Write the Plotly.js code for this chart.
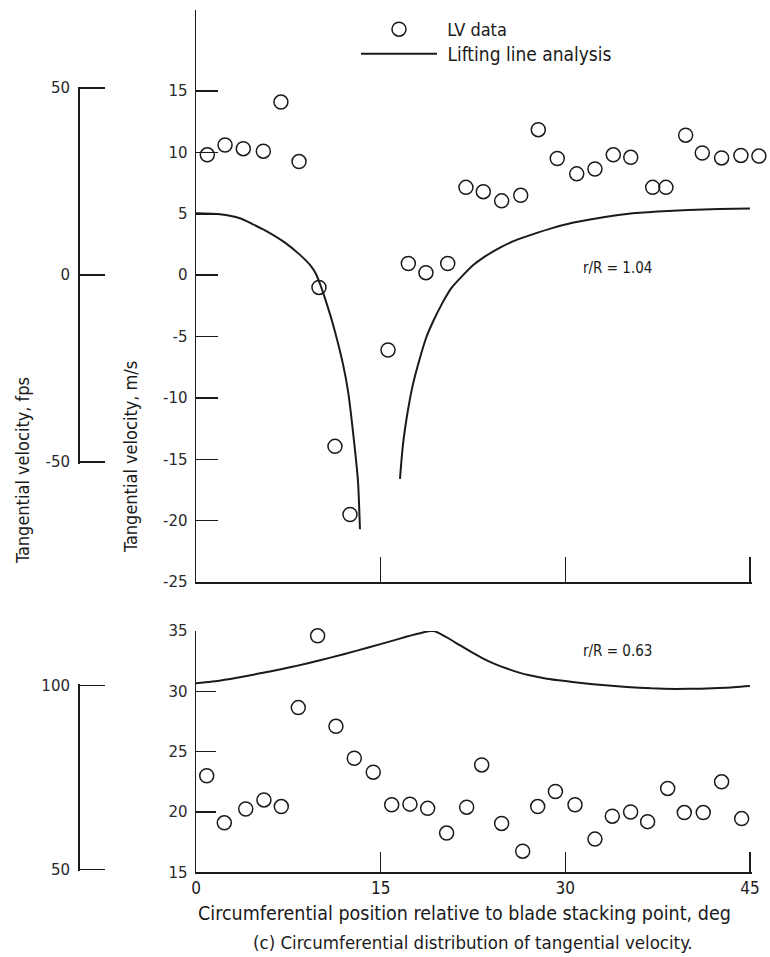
<!DOCTYPE html>
<html>
<head>
<meta charset="utf-8">
<script src="https://cdn.plot.ly/plotly-3.0.1.min.js"></script>
<style>
  html, body { margin: 0; padding: 0; background: #fff; }
  #chart { width: 770px; height: 957px; }
</style>
</head>
<body>
<div id="chart"></div>
<script>
// ---- Data ----
// r/R = 1.04 (upper panel), LV data, m/s
const topDataX = [0.92, 2.36, 3.84, 5.47, 6.9, 8.37, 9.99, 11.29, 12.51, 15.6,
  17.25, 18.68, 20.45, 21.93, 23.34, 24.83, 26.38, 27.81, 29.35, 30.93,
  32.41, 33.9, 35.32, 37.1, 38.18, 39.78, 41.13, 42.7, 44.27, 45.73];
const topDataY = [9.8, 10.6, 10.3, 10.1, 14.1, 9.25, -1.0, -13.95, -19.5, -6.1,
  0.95, 0.2, 0.95, 7.15, 6.8, 6.05, 6.5, 11.85, 9.5, 8.25,
  8.65, 9.8, 9.6, 7.15, 7.15, 11.4, 9.95, 9.55, 9.75, 9.7];

// Lifting line analysis, r/R = 1.04 (two branches separated by a gap)
const topCurveX = [0, 1.95, 3.57, 4.55, 5.61, 7.23, 8.45, 9.26, 9.75, 10.07, 10.4, 11.05, 11.94, 12.35, 12.75, 13.16, 13.32,
  null,
  16.57, 16.7, 16.85, 17.12, 17.6, 18.2, 18.7, 19.28, 20.0, 20.77, 21.7, 22.5, 23.34, 24.7, 26.0, 27.4, 29.0, 30.5, 32.5, 35.0, 37.5, 40.0, 42.5, 45.0];
const topCurveY = [5.05, 4.96, 4.63, 4.18, 3.65, 2.65, 1.65, 0.83, 0.1, -0.7, -1.65, -3.74, -7.25, -9.45, -12.72, -16.8, -20.7,
  null,
  -16.6, -15.0, -13.5, -11.6, -9.0, -6.73, -5.1, -3.74, -2.3, -1.02, 0.0, 0.8, 1.43, 2.24, 2.85, 3.34, 3.85, 4.25, 4.62, 4.98, 5.18, 5.3, 5.38, 5.43];

// r/R = 0.63 (lower panel), LV data, m/s
const botDataX = [0.87, 2.3, 4.04, 5.52, 6.93, 8.31, 9.88, 11.37, 12.86, 14.4,
  15.9, 17.38, 18.82, 20.36, 21.99, 23.21, 24.83, 26.54, 27.76, 29.2,
  30.79, 32.41, 33.82, 35.31, 36.69, 38.32, 39.67, 41.21, 42.7, 44.33];
const botDataY = [23.0, 19.1, 20.25, 21.0, 20.45, 28.65, 34.6, 27.1, 24.45, 23.3,
  20.6, 20.65, 20.3, 18.25, 20.4, 23.9, 19.05, 16.75, 20.45, 21.7,
  20.6, 17.75, 19.65, 20.0, 19.2, 21.95, 19.95, 19.95, 22.5, 19.45];

// Lifting line analysis, r/R = 0.63
const botCurveX = [0, 2, 4, 6, 8, 10, 12, 14, 16, 17, 18, 18.5, 19, 19.3, 19.7, 20.5, 21.5, 22.5, 23.5, 24.5, 25.5, 27, 28.5, 30, 31.5, 33, 35, 37, 39, 41, 43, 45];
const botCurveY = [30.66, 30.9, 31.25, 31.65, 32.07, 32.55, 33.08, 33.63, 34.2, 34.5, 34.77, 34.9, 35.0, 35.0, 34.85, 34.4, 33.78, 33.18, 32.63, 32.17, 31.8, 31.35, 31.05, 30.85, 30.67, 30.52, 30.36, 30.25, 30.2, 30.22, 30.3, 30.45];

// Axis ticks and labels
const xTickVals = [0, 15, 30, 45];
const xTickText = ['0', '15', '30', '45'];
const topTickVals = [-25, -20, -15, -10, -5, 0, 5, 10, 15];
const topTickText = ['-25', '-20', '-15', '-10', '-5', '0', '5', '10', '15'];
const botTickVals = [15, 20, 25, 30, 35];
const botTickText = ['15', '20', '25', '30', '35'];
const topFpsVals = [-50, 0, 50];
const topFpsText = ['-50', '0', '50'];
const botFpsVals = [50, 100];
const botFpsText = ['50', '100'];

// ---- Layout geometry (page pixels) ----
const W = 770, H = 957;
const FT_PER_M = 0.3048;
const X_MAX = 45.17;
const plotLeft = 196, plotRight = 752;
const pxPerDeg = (plotRight - plotLeft) / X_MAX;
const topPanel = { top: 10, bottom: 582, range: [-25, 21.6] };
const botPanel = { top: 631, bottom: 872.3, range: [15, 35] };
const fpsX = 78;
const FPS_PAD = 0.35;

const fx = px => px / W;
const fy = py => (H - py) / H;

// domain of an fps axis mapped onto a m/s panel
function fpsDomain(panel, fpsLo, fpsHi) {
  const [r0, r1] = panel.range;
  const ppu = (panel.bottom - panel.top) / (r1 - r0);
  const pyLo = panel.bottom - (fpsLo * FT_PER_M - r0) * ppu;
  const pyHi = panel.bottom - (fpsHi * FT_PER_M - r0) * ppu;
  return [fy(pyLo), fy(pyHi)];
}

const INK = '#1a1a1a';
const COND = '"DejaVu Sans Condensed", "Liberation Sans Narrow", sans-serif';
const TICKFONT = { family: '"DejaVu Sans", sans-serif', size: 15, color: '#2a2a2a' };

const markerStyle = { symbol: 'circle-open', size: 14, color: INK, line: { width: 1.5, color: INK } };

const traces = [
  // top LV data sits on a hidden x axis with the same scale but a wider span,
  // so the last measurement (just past 45 deg) is still drawn
  { x: topDataX, y: topDataY, xaxis: 'x3', yaxis: 'y', type: 'scatter', mode: 'markers',
    name: '\u00A0LV data', marker: markerStyle, cliponaxis: false, showlegend: true, legend: 'legend' },
  { x: topCurveX, y: topCurveY, xaxis: 'x', yaxis: 'y', type: 'scatter', mode: 'lines',
    name: '\u00A0Lifting line analysis', line: { color: INK, width: 2, shape: 'spline', smoothing: 0.6 },
    connectgaps: false, showlegend: true, legend: 'legend2' },
  { x: botDataX, y: botDataY, xaxis: 'x2', yaxis: 'y2', type: 'scatter', mode: 'markers',
    name: 'LV data', marker: markerStyle, cliponaxis: false, showlegend: false },
  { x: botCurveX, y: botCurveY, xaxis: 'x2', yaxis: 'y2', type: 'scatter', mode: 'lines',
    name: 'Lifting line analysis', line: { color: INK, width: 2, shape: 'spline', smoothing: 0.5 },
    cliponaxis: false, showlegend: false },
  // carriers for the secondary fps axes
  { x: [null], y: [null], xaxis: 'x', yaxis: 'y3', type: 'scatter', mode: 'markers', showlegend: false, hoverinfo: 'skip' },
  { x: [null], y: [null], xaxis: 'x2', yaxis: 'y4', type: 'scatter', mode: 'markers', showlegend: false, hoverinfo: 'skip' }
];

const axisBase = {
  showline: true, linecolor: INK, linewidth: 1.5,
  showgrid: false, zeroline: false, ticks: 'inside', tickcolor: INK, tickwidth: 1.5,
  tickmode: 'array', fixedrange: true
};

function ann(text, px, py, size, extra) {
  return Object.assign({
    text: text, xref: 'paper', yref: 'paper', x: fx(px), y: fy(py),
    xanchor: 'center', yanchor: 'middle', showarrow: false,
    font: { family: COND, size: size, color: INK }
  }, extra || {});
}

const legendBase = {
  xanchor: 'left', yanchor: 'top', bgcolor: 'rgba(0,0,0,0)', borderwidth: 0,
  itemwidth: 76, tracegroupgap: 0, traceorder: 'normal'
};

const layout = {
  width: W, height: H,
  margin: { l: 0, r: 0, t: 0, b: 0 },
  paper_bgcolor: '#ffffff', plot_bgcolor: 'rgba(0,0,0,0)',
  showlegend: true,
  legend: Object.assign({}, legendBase, {
    x: fx(356), y: fy(11), font: { family: COND, size: 18, color: INK }
  }),
  legend2: Object.assign({}, legendBase, {
    x: fx(356), y: fy(35), font: { family: COND, size: 19, color: INK }
  }),
  xaxis: Object.assign({}, axisBase, {
    domain: [fx(plotLeft), fx(plotRight)], range: [0, X_MAX], anchor: 'y',
    tickvals: [15, 30, 45], ticklen: 25, showticklabels: false
  }),
  xaxis3: {
    domain: [fx(plotLeft), 1], range: [0, (W - plotLeft) / pxPerDeg], anchor: 'y',
    visible: false, fixedrange: true
  },
  yaxis: Object.assign({}, axisBase, {
    domain: [fy(topPanel.bottom), fy(topPanel.top)], range: topPanel.range, anchor: 'x',
    tickvals: topTickVals, ticktext: topTickText, ticklen: 22, tickfont: TICKFONT, ticklabelstandoff: 4
  }),
  xaxis2: Object.assign({}, axisBase, {
    domain: [fx(plotLeft), fx(plotRight)], range: [0, X_MAX], anchor: 'y2',
    tickvals: xTickVals, ticktext: xTickText, ticklen: 20,
    tickfont: { family: COND, size: 17, color: INK }
  }),
  yaxis2: Object.assign({}, axisBase, {
    domain: [fy(botPanel.bottom), fy(botPanel.top)], range: botPanel.range, anchor: 'x2',
    tickvals: botTickVals, ticktext: botTickText, ticklen: 20, tickfont: TICKFONT, ticklabelstandoff: 4
  }),
  yaxis3: Object.assign({}, axisBase, {
    domain: fpsDomain(topPanel, -50 - FPS_PAD, 50 + FPS_PAD), range: [-50 - FPS_PAD, 50 + FPS_PAD],
    anchor: 'free', position: fx(fpsX), side: 'left',
    tickvals: topFpsVals, ticktext: topFpsText, ticklen: 25, tickfont: TICKFONT, ticklabelstandoff: 5
  }),
  yaxis4: Object.assign({}, axisBase, {
    domain: fpsDomain(botPanel, 50 - FPS_PAD, 100 + FPS_PAD), range: [50 - FPS_PAD, 100 + FPS_PAD],
    anchor: 'free', position: fx(fpsX), side: 'left',
    tickvals: botFpsVals, ticktext: botFpsText, ticklen: 25, tickfont: TICKFONT, ticklabelstandoff: 5
  }),
  annotations: [
    ann('Tangential velocity, fps', 22, 471, 18, { textangle: -90 }),
    ann('Tangential velocity, m/s', 130, 457, 18, { textangle: -90 }),
    ann('r/R = 1.04', 617, 268, 15),
    ann('r/R = 0.63', 617, 651, 15),
    ann('Circumferential position relative to blade stacking point, deg', 464, 913, 19.5),
    ann('(c) Circumferential distribution of tangential velocity.', 473, 942, 18.5)
  ]
};

Plotly.newPlot('chart', traces, layout, { staticPlot: true, displayModeBar: false });
</script>
</body>
</html>
